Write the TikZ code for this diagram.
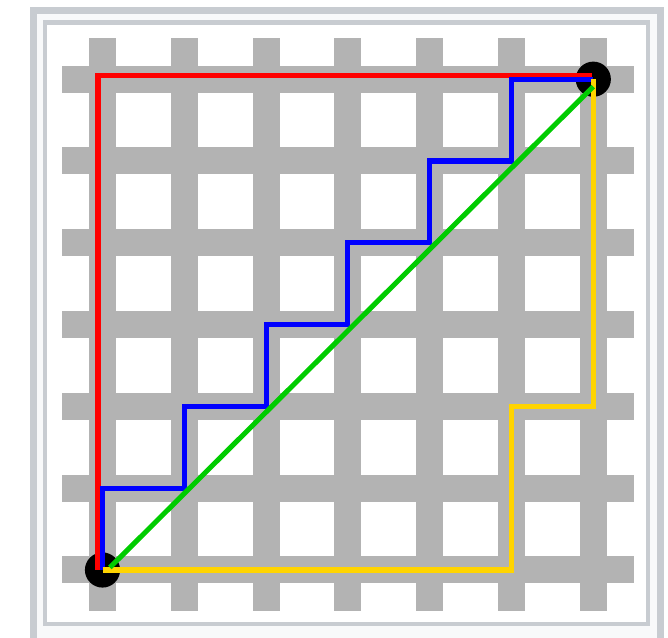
\documentclass[tikz,border=0pt]{standalone}
\definecolor{bargray}{RGB}{179,179,179}
\definecolor{frameline}{RGB}{200,204,209}
\definecolor{framefill}{RGB}{248,249,250}
\definecolor{pathgreen}{RGB}{0,204,0}
\definecolor{pathyellow}{RGB}{255,212,0}
\tikzset{
  route/.style={line width=1.75pt},
  corner/.style={circle,fill=black,inner sep=0pt,minimum size=0.43cm}
}
\begin{document}
\begin{tikzpicture}
      \clip (-1.2531,-0.8313) rectangle (6.9132,6.9682);
      % frame
      \draw[frameline,fill=framefill,line width=2.1pt] (-0.8435,-1.2) rectangle (6.8215,6.840);
      \draw[frameline,fill=white,line width=1.4pt] (-0.703,-0.666) rectangle (6.663,6.693);
      % streets
      \foreach \i in {0,...,6} {
        \fill[bargray] (\i-0.165,-0.5) rectangle (\i+0.165,6.5);
        \fill[bargray] (-0.5,\i-0.165) rectangle (6.5,\i+0.165);
      }
      \node[corner] (start) at (0,0) {};
      \node[corner] (goal) at (6,6) {};

      \draw[route,red] ([xshift=-0.055cm]start.center) |- ([xshift=-0.02cm,yshift=0.05cm]goal.center);
      \draw[route,blue] (start.center)
        \foreach \i in {1,...,6} { -- (\i-1,\i) -- (\i,\i) };
      \draw[route,pathyellow] (start.center) -| (5,2) -| (goal.center);
      \draw[route,pathgreen] ([xshift=0.09cm,yshift=0.03cm]start.center) -- ([yshift=-0.09cm]goal.center);
    \end{tikzpicture}
\end{document}
